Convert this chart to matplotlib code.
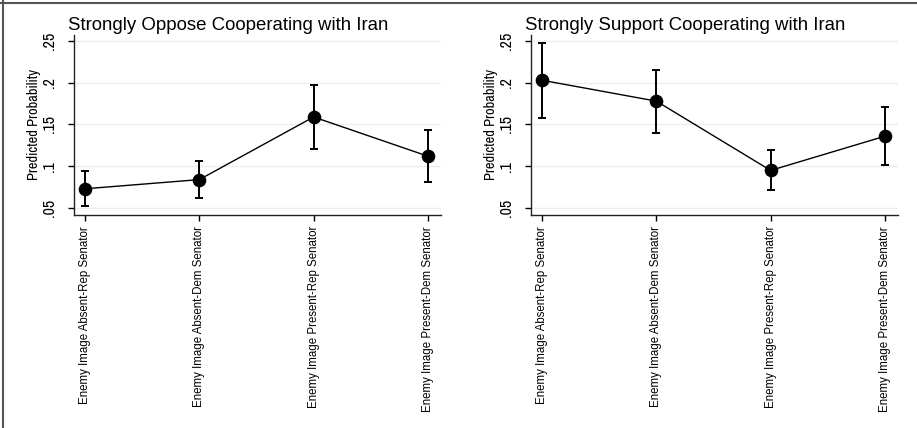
import matplotlib
matplotlib.use("Agg")
import matplotlib.pyplot as plt
from matplotlib import font_manager
from matplotlib.lines import Line2D

categories = ["Enemy Image Absent-Rep Senator", "Enemy Image Absent-Dem Senator",
              "Enemy Image Present-Rep Senator", "Enemy Image Present-Dem Senator"]
titles = ["Strongly Oppose Cooperating with Iran", "Strongly Support Cooperating with Iran"]
oppose_est = [0.073, 0.084, 0.159, 0.112]
oppose_lo = [0.052, 0.062, 0.121, 0.081]
oppose_hi = [0.094, 0.106, 0.197, 0.144]
support_est = [0.203, 0.178, 0.095, 0.136]
support_lo = [0.158, 0.140, 0.071, 0.101]
support_hi = [0.248, 0.215, 0.119, 0.171]
yticks = [0.05, 0.10, 0.15, 0.20, 0.25]
ytick_labels = [".05", ".1", ".15", ".2", ".25"]

names = {f.name for f in font_manager.fontManager.ttflist}
base = "Liberation Sans" if "Liberation Sans" in names else "DejaVu Sans"
narrow = base
for cand in ["Archivo Narrow", "Roboto Condensed", "PT Sans Narrow"]:
    if cand in names:
        narrow = cand
        break
plt.rcParams["font.family"] = [base, "DejaVu Sans"]

fig = plt.figure(figsize=(9.17, 4.28), dpi=100)
W, H = 917, 428

def add_panel(x0, est, lo, hi, title):
    ax = fig.add_axes([x0 / W, (H - 215) / H, 367 / W, 180 / H])
    xs = list(range(len(categories)))
    yerr = [[e - l for e, l in zip(est, lo)], [h - e for e, h in zip(est, hi)]]
    ax.errorbar(xs, est, yerr=yerr, fmt="none", ecolor="black", elinewidth=1.4,
                capsize=3, capthick=1.4, zorder=3)
    ax.plot(xs, est, color="black", lw=1.0, marker="o", markersize=8.8, zorder=4)
    ax.set_xlim(-0.096, 3.114)
    ax.set_ylim(0.0416, 0.2572)
    ax.set_yticks(yticks)
    ax.set_yticklabels(ytick_labels, rotation=90, va="center", fontsize=11.5,
                       family=[narrow, "DejaVu Sans"])
    ax.set_xticks(xs)
    ax.set_xticklabels(categories, rotation=90, fontsize=8.3)
    ax.tick_params(axis="both", length=4, width=1, color="black")
    ax.tick_params(axis="y", pad=8)
    ax.tick_params(axis="x", pad=4)
    for s in ["top", "right"]:
        ax.spines[s].set_visible(False)
    for s in ["left", "bottom"]:
        ax.spines[s].set_linewidth(1.0)
        ax.spines[s].set_color("#222222")
    ax.grid(axis="y", color="#e6eff2", lw=1.0)
    ax.set_axisbelow(True)
    ax.set_ylabel("Predicted Probability", fontsize=10.4, family=[narrow, "DejaVu Sans"],
                  labelpad=1)
    fig.text((x0 - 6) / W, (H - 25) / H, title, fontsize=13.4, ha="left", va="center")
    return ax

add_panel(74, oppose_est, oppose_lo, oppose_hi, titles[0])
add_panel(531, support_est, support_lo, support_hi, titles[1])

fig.add_artist(Line2D([2.5 / W, 2.5 / W], [0, 1], transform=fig.transFigure, color="#555555", lw=1.5))
fig.add_artist(Line2D([0, 1], [(H - 2.5) / H, (H - 2.5) / H], transform=fig.transFigure, color="#555555", lw=1.5))

fig.savefig("out.png", dpi=100)
